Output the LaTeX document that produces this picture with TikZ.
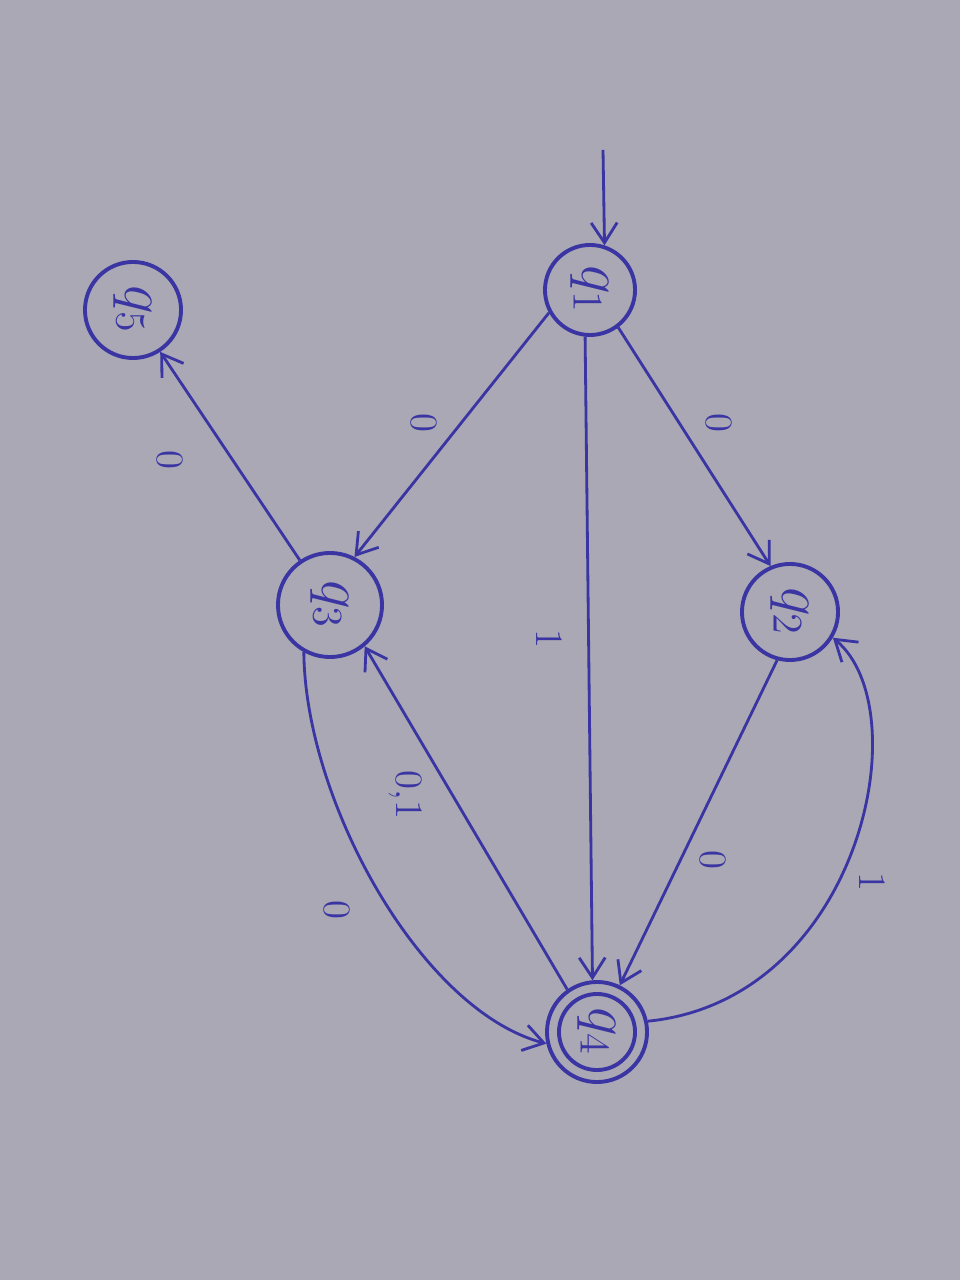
\documentclass[tikz,border=0pt]{standalone}
\usepackage{graphicx}
\usetikzlibrary{arrows.meta}
\definecolor{paper}{HTML}{A9A8B4}
\definecolor{ink}{HTML}{3A35A3}
\newcommand{\rotlbl}[1]{\rotatebox{-90}{#1}}
\begin{document}
\begin{tikzpicture}[x=0.01cm,y=-0.01cm,
  state/.style={circle,draw=ink,line width=1.1pt,inner sep=0pt,font=\fontsize{18}{20}\selectfont,text=ink},
  edge/.style={draw=ink,line width=0.8pt,-{Straight Barb[length=2mm,width=2.6mm]}},
  lbl/.style={text=ink,font=\fontsize{11}{13}\selectfont,inner sep=0pt}]
\fill[paper] (0,0) rectangle (960,1280);
\useasboundingbox (0,0) rectangle (960,1280);
\node[state,minimum size=0.9cm] (q1) at (590,290) {\rotlbl{$q_1$}};
\node[state,minimum size=0.96cm] (q5) at (133,310) {\rotlbl{$q_5$}};
\node[state,minimum size=1.04cm] (q3) at (330,605) {\rotlbl{$q_3$}};
\node[state,minimum size=0.96cm] (q2) at (790,612) {\rotlbl{$q_2$}};
\node[state,minimum size=1.0cm] (q4) at (597,1032) {\rotlbl{$q_4$}};
\draw[ink,line width=1.1pt] (q4.center) circle[radius=0.38cm];
\coordinate (start) at (603,150);
\draw[edge] (start) -- (q1.72);
\draw[edge] (q1.209) -- node[lbl,pos=0.45,shift={(-37,0)}] {\rotlbl{0}} (q3.63);
\draw[edge] (q1.307) -- node[lbl,pos=0.40,shift={(40,0)}] {\rotlbl{0}} (q2.113);
\draw[edge] (q1.264) -- node[lbl,pos=0.47,shift={(-39,0)}] {\rotlbl{1}} (q4.95);
\draw[edge] (q3.124) -- node[lbl,pos=0.48,shift={(-63,0)}] {\rotlbl{0}} (q5.303);
\draw[edge] (q2.255) -- node[lbl,pos=0.615,shift={(33,0)}] {\rotlbl{0}} (q4.64);
\draw[edge] (q4.12) .. controls (860,1000) and (920,710) .. node[lbl,pos=0.45,shift={(30,8)}] {\rotlbl{1}} (q2.329);
\draw[edge] (q3.241) .. controls (305,800) and (420,1010) .. node[lbl,pos=0.55,shift={(-55,-3)}] {\rotlbl{0}} (q4.193);
\draw[edge] (q4.125) -- node[lbl,pos=0.567,shift={(-47,0)}] {\rotlbl{0,1}} (q3.310);
\end{tikzpicture}
\end{document}
